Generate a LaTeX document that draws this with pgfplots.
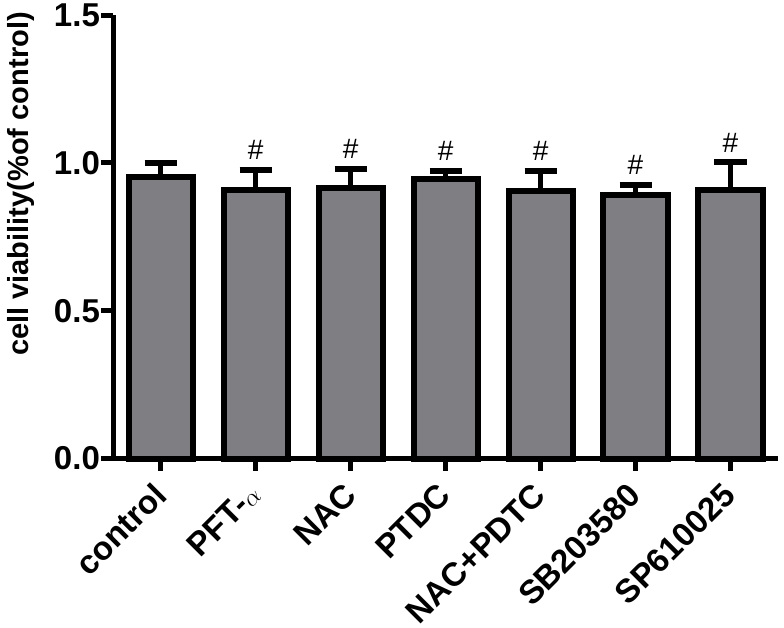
\documentclass[border=0pt]{standalone}
\usepackage{pgfplots}
\pgfplotsset{compat=1.18}
\usepackage{fontspec}
\setmainfont{Liberation Sans}
\definecolor{bargray}{RGB}{127,126,131}
\begin{document}
\begin{tikzpicture}
\begin{axis}[
  scale only axis, width=664pt, height=443pt,
  xmin=-0.5, xmax=6.5, ymin=0, ymax=1.5,
  axis x line=bottom, axis y line=left,
  axis line style={line width=5pt, -},
  xtick={0,...,6},
  xticklabels={control, PFT-$\alpha$, NAC, PTDC, NAC+PDTC, SB203580, SP610025},
  ytick={0,0.5,1,1.5},
  yticklabel style={inner sep=1pt, /pgf/number format/.cd, fixed, fixed zerofill, precision=1, assume math mode=true},
  tick style={line width=5pt, black},
  major tick length=12pt,
  xtick align=outside, ytick align=outside,
  ticklabel style={font=\fontsize{33}{38}\selectfont\bfseries},
  xticklabel style={xshift=-9pt, yshift=-10pt, rotate=45, anchor=north east, inner sep=0pt},
  ylabel={cell viability(\%of control)},
  ylabel style={at={([xshift=-78pt]axis description cs:0,0.619)}, anchor=south, inner sep=0pt,
    font=\fontsize{29}{34}\selectfont\bfseries},
  clip=false,
]
\addplot[ybar, bar width=64pt, fill=bargray, draw=black, line width=6pt,
  error bars/.cd, y dir=plus, y explicit,
  error bar style={line width=5pt, black},
  error mark options={line width=6pt, mark size=16pt, black, rotate=90}]
  coordinates {
  (0,0.951) +- (0,0.047)
  (1,0.907) +- (0,0.070)
  (2,0.914) +- (0,0.065)
  (3,0.946) +- (0,0.026)
  (4,0.906) +- (0,0.068)
  (5,0.891) +- (0,0.035)
  (6,0.907) +- (0,0.095)
  };
\addplot[draw=none, mark=none, nodes near coords={\mbox{\#}},
  every node near coord/.append style={anchor=south, font=\fontsize{28}{32}\selectfont, inner sep=0pt, yshift=10pt}]
  coordinates {(1,0.977) (2,0.979) (3,0.972) (4,0.974) (5,0.926) (6,1.002)};
\end{axis}
\pgfresetboundingbox
\path[use as bounding box] ([shift={(-113pt,-169pt)}]current axis.south west) rectangle ([shift={(6pt,15pt)}]current axis.north east);
\end{tikzpicture}
\end{document}
